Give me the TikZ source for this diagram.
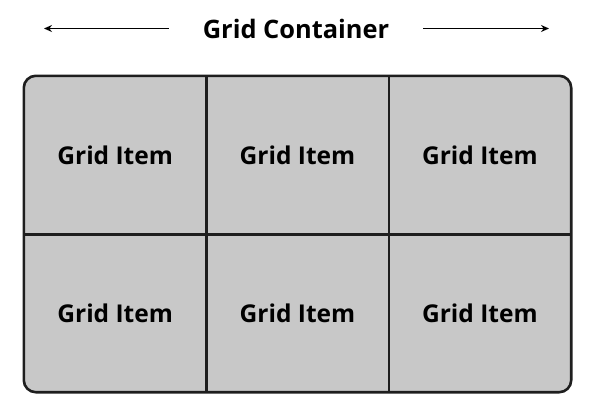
\documentclass[tikz,border=0pt]{standalone}
\usepackage{fontspec}
\newfontfamily\itemfont{Open Sans}
\usetikzlibrary{arrows.meta,backgrounds}
\definecolor{cellgray}{HTML}{C8C8C8}
\definecolor{inkline}{HTML}{1E1E1E}
\tikzset{
	itemlabel/.style={font=\itemfont\bfseries\fontsize{24.6}{28}\selectfont, minimum width=182.33bp, minimum height=158bp, inner sep=0pt},
	titlelabel/.style={font=\itemfont\bfseries\fontsize{25.5}{28}\selectfont, inner xsep=34bp},
	gridline/.style={draw=inkline, line width=2.6bp},
	spanarrow/.style={-{Stealth[length=8bp,width=7bp]}, line width=1.8bp, black}
}
\begin{document}
\begin{tikzpicture}[x=1bp, y=-1bp]
		\useasboundingbox (0,0) rectangle (595,419);
		
		% 标题和两侧箭头
		\node[titlelabel] (title) at (296,29) {Grid Container};
		\coordinate (lend) at (44,28.5);
		\coordinate (rend) at (549,28.5);
		\draw[spanarrow] (title.west |- lend) -- (lend);
		\draw[spanarrow] (title.east |- rend) -- (rend);
		
		% 2x3 网格项
		\foreach \r in {1,2}{
			\foreach \c in {1,2,3}{
				\node[itemlabel] (item\r\c) at ({24+182.33*(\c-0.5)}, {76+158*(\r-0.5)}) {Grid Item};
			}
		}
		
		% 外框和分割线
		\begin{scope}[on background layer]
			\draw[gridline, fill=cellgray, rounded corners=12bp] (item11.north west) rectangle (item23.south east);
		\end{scope}
		\draw[gridline] (item11.north east) -- (item21.south east);
		\draw[gridline] (item12.north east) -- (item22.south east);
		\draw[gridline] (item11.south west) -- (item13.south east);
	\end{tikzpicture}
\end{document}
